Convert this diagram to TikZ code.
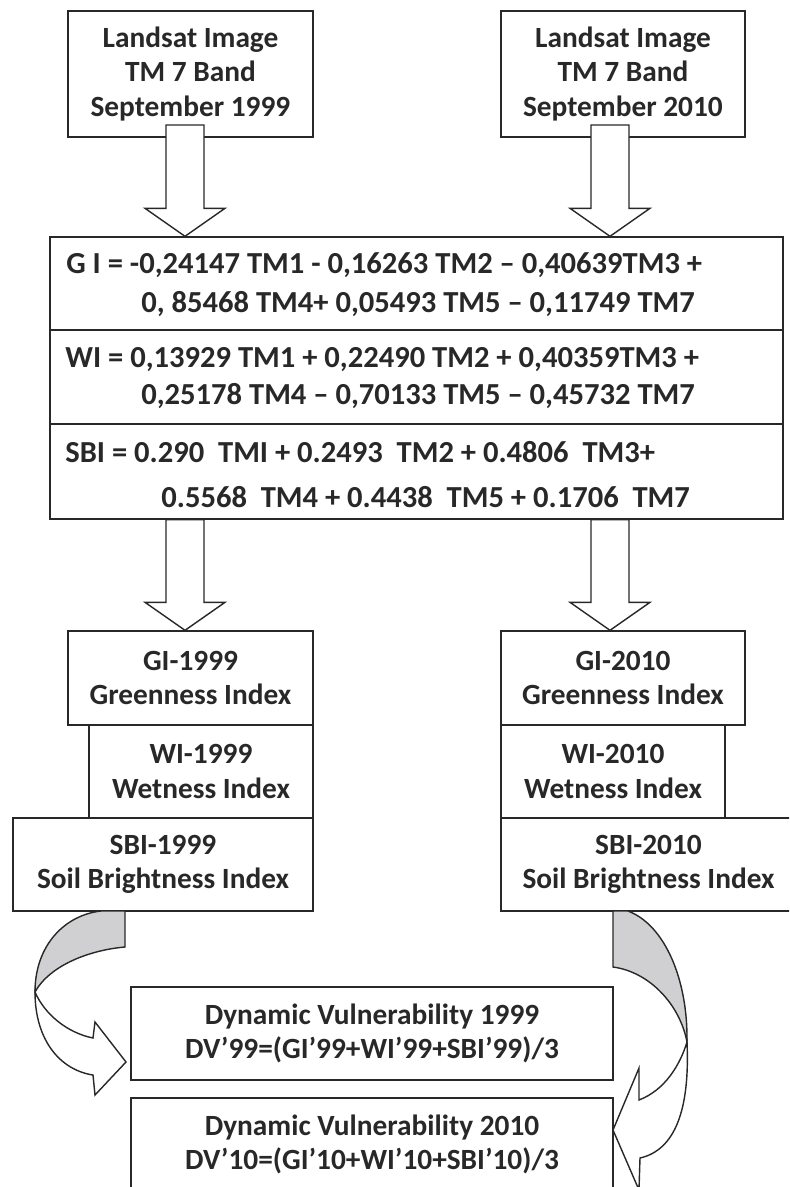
\documentclass[tikz,border=0pt]{standalone}
\usepackage{fontspec}
\setmainfont{Carlito}
\usepackage{tikz}
\usetikzlibrary{calc}
\definecolor{backgray}{RGB}{208,208,210}
\definecolor{inkgray}{RGB}{40,40,40}
\newcommand{\labfont}{\fontsize{16.7}{19.5}\selectfont\bfseries}
\newcommand{\eqfont}{\fontsize{17.4}{20}\selectfont\bfseries}
\tikzset{
  box/.style={draw=inkgray, line width=0.8pt, inner sep=0pt, align=center, text=inkgray, font=\labfont},
  eqline/.style={anchor=base west, inner sep=0pt, text=inkgray, font=\eqfont},
  blockarrow/.style={draw=inkgray, line width=0.8pt, fill=white},
  backface/.style={draw=inkgray, line width=0.8pt, fill=backgray},
  frontface/.style={draw=inkgray, line width=0.8pt, fill=white},
}
\newcommand{\blockdown}[2]{%
  \draw[blockarrow] ($(#1)+(-19,0)$) -- ($(#1)+(19,0)$) -- ($(#2)+(19,-28)$)
    -- ($(#2)+(40,-28)$) -- (#2) -- ($(#2)+(-40,-28)$) -- ($(#2)+(-19,-28)$) -- cycle;}

\begin{document}
\begin{tikzpicture}[x=0.02cm, y=-0.02cm]
  \useasboundingbox (0,0) rectangle (789,1187);
  \clip (0,0) rectangle (789,1187);

  % Landsat inputs
  \node[box, minimum width=4.9cm, minimum height=2.52cm] (land99) at (190.5,74) {Landsat Image\\TM 7 Band\\September 1999};
  \node[box, minimum width=4.88cm, minimum height=2.52cm] (land10) at (623,74) {Landsat Image\\TM 7 Band\\September 2010};

  % Index formulas
  \node[box, minimum width=14.66cm, minimum height=1.86cm] (gieq) at (416.5,283.5) {};
  \node[box, minimum width=14.66cm, minimum height=1.88cm] (wieq) at (416.5,377) {};
  \node[box, minimum width=14.66cm, minimum height=1.9cm] (sbieq) at (416.5,471.5) {};
  \node[eqline] (gi1) at (66,273) {G I = -0,24147 TM1 - 0,16263 TM2 – 0,40639TM3 +};
  \node[eqline] (gi2) at (141,312) {0, 85468 TM4+ 0,05493 TM5 – 0,11749 TM7};
  \node[eqline] (wi1) at (65,367) {WI = 0,13929 TM1 + 0,22490 TM2 + 0,40359TM3 +};
  \node[eqline] (wi2) at (141,404) {0,25178 TM4 – 0,70133 TM5 – 0,45732 TM7};
  \node[eqline] (sbi1) at (65,462) {SBI = 0.290\ \ TMI + 0.2493\ \ TM2 + 0.4806\ \ TM3+};
  \node[eqline] (sbi2) at (161,507) {0.5568\ \ TM4 + 0.4438\ \ TM5 + 0.1706\ \ TM7};

  % Indices per year
  \node[box, minimum width=4.9cm, minimum height=1.88cm] (gi99) at (190.5,678) {GI-1999\\Greenness Index};
  \node[box, minimum width=4.48cm, minimum height=1.86cm] (wi99) at (201,771.5) {WI-1999\\Wetness Index};
  \node[box, minimum width=6cm, minimum height=1.86cm] (sbi99) at (163,864.5) {SBI-1999\\Soil Brightness Index};
  \node[box, minimum width=4.88cm, minimum height=1.88cm] (gi10) at (623,678) {GI-2010\\Greenness Index};
  \node[box, minimum width=4.48cm, minimum height=1.86cm] (wi10) at (613,771.5) {WI-2010\\Wetness Index};
  \node[box, minimum width=5.9cm, minimum height=1.86cm] (sbi10) at (648.5,864.5) {SBI-2010\\Soil Brightness Index};

  % Dynamic vulnerability
  \node[box, minimum width=9.64cm, minimum height=1.86cm] (dv99) at (372,1033.5) {Dynamic Vulnerability 1999\\DV’99=(GI’99+WI’99+SBI’99)/3};
  \node[box, minimum width=9.64cm, minimum height=1.86cm] (dv10) at (372,1144.5) {Dynamic Vulnerability 2010\\DV’10=(GI’10+WI’10+SBI’10)/3};

  % Block arrows
  \coordinate (a99s) at (185,125);
  \coordinate (a99e) at (a99s |- gieq.north);
  \coordinate (a10s) at (610,125);
  \coordinate (a10e) at (a10s |- gieq.north);
  \coordinate (b99s) at (a99s |- sbieq.south);
  \coordinate (b99e) at (a99s |- gi99.north);
  \coordinate (b10s) at (a10s |- sbieq.south);
  \coordinate (b10e) at (a10s |- gi10.north);
  \blockdown{a99s}{a99e}
  \blockdown{a10s}{a10e}
  \blockdown{b99s}{b99e}
  \blockdown{b10s}{b10e}

  % Curved arrows
  \draw[backface] (101,911) -- (125,911) -- (125,947) .. controls (90,950) and (50,965) .. (35,992)
    .. controls (35,945) and (65,915) .. (101,911) -- cycle;
  \draw[frontface] (35,992) .. controls (45,1015) and (68,1033) .. (93,1038) -- (95,1022) -- (126,1062)
    -- (95,1095) -- (93,1075) .. controls (60,1070) and (35,1040) .. (35,992) -- cycle;
  \draw[backface] (613,911) -- (628,911) .. controls (665,925) and (688,980) .. (687,1042)
    .. controls (680,1005) and (650,972) .. (613,967) -- cycle;
  \draw[frontface] (687,1042) .. controls (680,1065) and (665,1090) .. (639,1100) -- (639,1068) -- (613,1130)
    -- (639,1190) -- (640,1158) .. controls (675,1150) and (690,1110) .. (687,1042) -- cycle;
\end{tikzpicture}
\end{document}
